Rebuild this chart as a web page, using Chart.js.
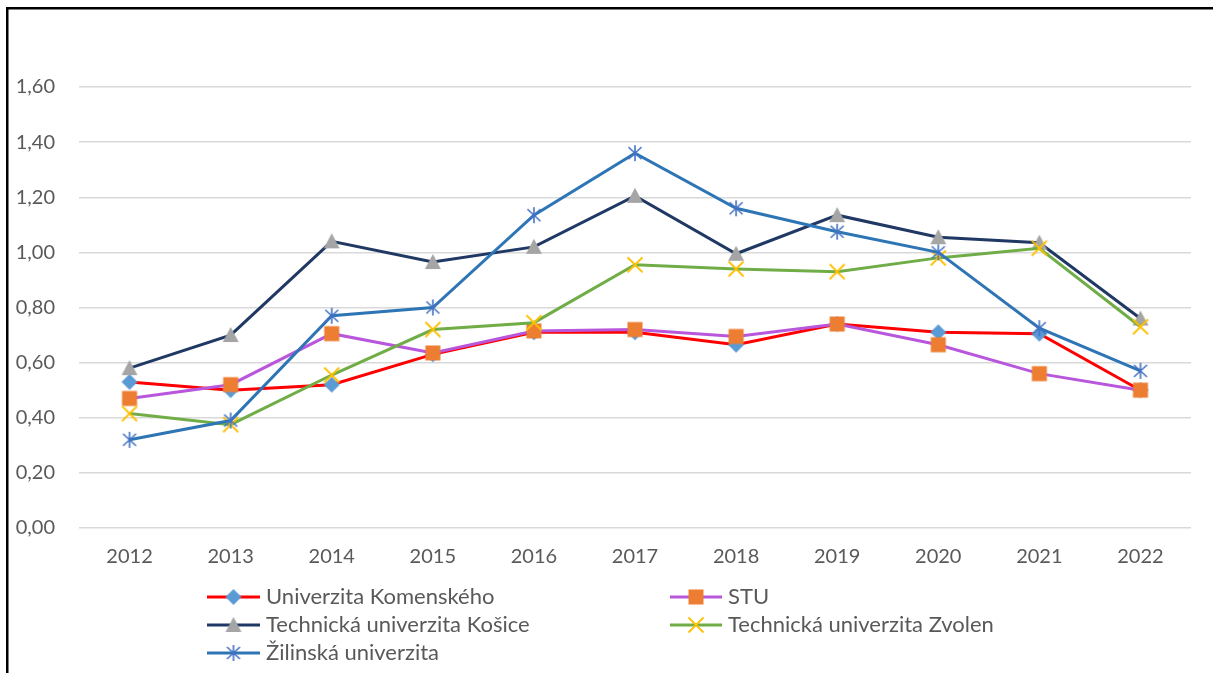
<!DOCTYPE html>
<html lang="sk">
<head>
  <meta charset="UTF-8">
  <title>Univerzity 2012-2022</title>
  <script src="https://cdn.jsdelivr.net/npm/chart.js"></script>
  <style>
    html, body {
      margin: 0;
      padding: 0;
      background: #fff;
    }
    #wrap {
      position: absolute;
      left: 0;
      top: 0;
      width: 1213px;
      height: 673px;
    }
  </style>
</head>
<body>
<div id="wrap">
  <canvas id="chart" width="1213" height="673"></canvas>
</div>

<script>
// data
const years = ['2012', '2013', '2014', '2015', '2016', '2017', '2018', '2019', '2020', '2021', '2022'];
const uk    = [0.53, 0.50, 0.52, 0.63, 0.71, 0.71, 0.665, 0.74, 0.71, 0.705, 0.50];
const stu   = [0.47, 0.52, 0.705, 0.635, 0.715, 0.72, 0.695, 0.74, 0.665, 0.56, 0.50];
const tuke  = [0.58, 0.70, 1.04, 0.965, 1.02, 1.205, 0.995, 1.135, 1.055, 1.035, 0.76];
const tuzvo = [0.415, 0.375, 0.555, 0.72, 0.745, 0.955, 0.94, 0.93, 0.98, 1.015, 0.73];
const uniza = [0.32, 0.39, 0.77, 0.80, 1.135, 1.36, 1.16, 1.075, 1.00, 0.725, 0.57];
const yTicks = [0, 0.2, 0.4, 0.6, 0.8, 1.0, 1.2, 1.4, 1.6];

const FONT = 'Lato, "Liberation Sans", sans-serif';
const TXT = '#595959';

// marker images (Excel-like)
function marker(kind, color) {
  const c = document.createElement('canvas');
  c.width = 18; c.height = 18;
  const g = c.getContext('2d');
  const m = 9;
  g.fillStyle = color;
  g.strokeStyle = color;
  if (kind === 'diamond') {
    g.beginPath();
    g.moveTo(m, 1); g.lineTo(17, m); g.lineTo(m, 17); g.lineTo(1, m);
    g.closePath(); g.fill();
  } else if (kind === 'square') {
    g.fillRect(1.5, 1.5, 15, 15);
  } else if (kind === 'triangle') {
    g.beginPath();
    g.moveTo(m, 1); g.lineTo(17, 16); g.lineTo(1, 16);
    g.closePath(); g.fill();
  } else if (kind === 'x') {
    g.lineWidth = 1.8;
    g.beginPath();
    g.moveTo(1.5, 1.5); g.lineTo(16.5, 16.5);
    g.moveTo(16.5, 1.5); g.lineTo(1.5, 16.5);
    g.stroke();
  } else if (kind === 'star') {
    g.lineWidth = 1.6;
    g.beginPath();
    g.moveTo(m, 1); g.lineTo(m, 17);
    g.moveTo(2.5, 3); g.lineTo(15.5, 15);
    g.moveTo(15.5, 3); g.lineTo(2.5, 15);
    g.stroke();
  }
  return c;
}

const series = [
  { label: 'Univerzita Komenského', data: uk, line: '#ff0000', mark: marker('diamond', '#5b9bd5') },
  { label: 'STU', data: stu, line: '#b857dc', mark: marker('square', '#ed7d31') },
  { label: 'Technická univerzita Košice', data: tuke, line: '#203864', mark: marker('triangle', '#a5a5a5') },
  { label: 'Technická univerzita Zvolen', data: tuzvo, line: '#70ad47', mark: marker('x', '#ffc000') },
  { label: 'Žilinská univerzita', data: uniza, line: '#2e75b6', mark: marker('star', '#4472c4') }
];

// legend slots: [lineStart, textStart, y]
const legendPos = [
  [207, 266, 597],
  [670, 728, 597],
  [207, 266, 625],
  [670, 728, 625],
  [207, 266, 653]
];

const frameAndLegend = {
  id: 'frameAndLegend',
  beforeDraw(chart) {
    const ctx = chart.ctx;
    ctx.save();
    ctx.fillStyle = '#fff';
    ctx.fillRect(0, 0, chart.width, chart.height);
    ctx.fillStyle = '#000';
    ctx.fillRect(6, 7, 2.5, chart.height - 7);
    ctx.fillRect(6, 7, chart.width - 6, 2.5);
    ctx.restore();
  },
  afterDraw(chart) {
    const ctx = chart.ctx;
    ctx.save();
    ctx.font = '22px ' + FONT;
    ctx.textBaseline = 'middle';
    series.forEach((s, i) => {
      const [x0, tx, y] = legendPos[i];
      ctx.strokeStyle = s.line;
      ctx.lineWidth = 3;
      ctx.beginPath();
      ctx.moveTo(x0, y);
      ctx.lineTo(tx - 6, y);
      ctx.stroke();
      const mx = (x0 + tx - 6) / 2;
      ctx.drawImage(s.mark, mx - 9, y - 9);
      ctx.fillStyle = TXT;
      ctx.fillText(s.label, tx, y);
    });
    ctx.restore();
  }
};

new Chart(document.getElementById('chart'), {
  type: 'line',
  data: {
    labels: years,
    datasets: series.map((s, i) => ({
      label: s.label,
      data: s.data,
      borderColor: s.line,
      backgroundColor: s.line,
      borderWidth: 3,
      pointStyle: s.mark,
      pointRadius: 8,
      tension: 0,
      fill: false,
      order: series.length - i
    }))
  },
  options: {
    responsive: false,
    animation: false,
    events: [],
    layout: { padding: { top: 87, left: 0, right: 22, bottom: 0 } },
    plugins: {
      legend: { display: false },
      tooltip: { enabled: false }
    },
    scales: {
      x: {
        offset: true,
        grid: { display: false, drawTicks: false },
        border: { display: false },
        ticks: {
          color: TXT,
          font: { family: FONT, size: 20 },
          padding: 17
        },
        afterFit(scale) { scale.height = 145; }
      },
      y: {
        min: 0,
        max: 1.6,
        afterBuildTicks(scale) { scale.ticks = yTicks.map(v => ({ value: v })); },
        grid: { color: '#d9d9d9', lineWidth: 1.5, drawTicks: false },
        border: { display: false },
        ticks: {
          color: TXT,
          font: { family: FONT, size: 20 },
          padding: 24,
          callback: v => v.toFixed(2).replace('.', ',')
        },
        afterFit(scale) { scale.width = 79; }
      }
    }
  },
  plugins: [frameAndLegend]
});
</script>
</body>
</html>
